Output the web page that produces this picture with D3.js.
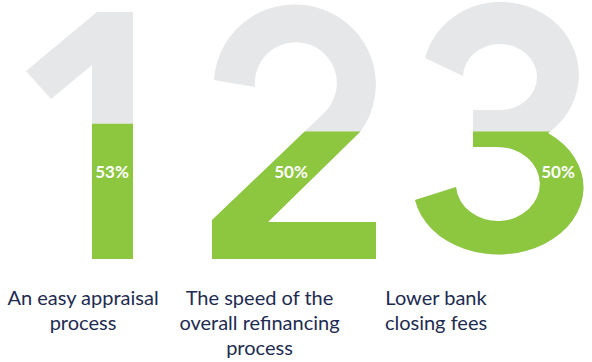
<!DOCTYPE html>
<html>
<head>
<meta charset="utf-8">
<script src="https://cdn.jsdelivr.net/npm/d3@7"></script>
<style>
  body { margin: 0; background: #fff; }
  svg { display: block; }
</style>
</head>
<body>
<div id="chart-area"></div>
<script>
// data
var ranks = ["1", "2", "3"];
var shares = [53, 50, 50];
var shareLabels = ["53%", "50%", "50%"];
var reasons = [
  ["An easy appraisal", "process"],
  ["The speed of the", "overall refinancing", "process"],
  ["Lower bank", "closing fees"]
];

var width = 592, height = 362;
var gray = "#e6e7e8", green = "#8dc63f", navy = "#1d2b52";

// fill level scale, shared by the three digits
var yScale = d3.scaleLinear()
  .domain([0, 100])
  .range([259, 4]);

// label positions
var xLabel = d3.scalePoint()
  .domain(ranks)
  .range([83, 436]);

// centre of the percent text in each digit
var xShare = d3.scaleOrdinal()
  .domain(ranks)
  .range([112, 291, 558]);

// digit outlines (glyph shapes)
var glyphs = {
  "1": "M97,12 L133,12 L133,259 L92,259 L92,65 L51,99 L26,71 Z",
  "2": "M214,80 A81,80 0 1 1 360,132 L268,222 L376,222 L376,259 L212,259 L212,220 L324,113 A41,41 0 1 0 255,87 Z",
  "3": "M425,58 A78,73 0 1 1 548,133 A85,67 0 1 1 415,200 L456,187 A42,37 0 1 0 498,147 " +
       "L473,147 L473,110 L500,110 A37,33 0 1 0 463,76 Z"
};

var svg = d3.select("#chart-area")
  .append("svg")
  .attr("width", width)
  .attr("height", height);

var defs = svg.append("defs");

var data = ranks.map(function(r, i) {
  return { rank: r, share: shares[i], label: shareLabels[i], reason: reasons[i] };
});

// clip rects for the green part
defs.selectAll("clipPath")
  .data(data)
  .enter()
  .append("clipPath")
  .attr("id", function(d) { return "fill-" + d.rank; })
  .append("rect")
  .attr("x", 0)
  .attr("width", width)
  .attr("y", function(d) { return yScale(d.share); })
  .attr("height", function(d) { return yScale(0) - yScale(d.share) + 2; });

var digits = svg.selectAll("g.digit")
  .data(data)
  .enter()
  .append("g")
  .attr("class", "digit");

digits.append("path")
  .attr("d", function(d) { return glyphs[d.rank]; })
  .attr("fill", gray);

digits.append("path")
  .attr("d", function(d) { return glyphs[d.rank]; })
  .attr("fill", green)
  .attr("clip-path", function(d) { return "url(#fill-" + d.rank + ")"; });

digits.append("text")
  .attr("x", function(d) { return xShare(d.rank); })
  .attr("y", 178)
  .attr("text-anchor", "middle")
  .attr("font-family", "Lato, 'Open Sans', sans-serif")
  .attr("font-weight", 700)
  .attr("font-size", "17px")
  .attr("fill", "#fff")
  .text(function(d) { return d.label; });

// captions under the digits
var captions = svg.selectAll("text.caption")
  .data(data)
  .enter()
  .append("text")
  .attr("class", "caption")
  .attr("x", function(d) { return xLabel(d.rank); })
  .attr("y", 305)
  .attr("text-anchor", "middle")
  .attr("font-family", "Lato, 'Open Sans', sans-serif")
  .attr("font-size", "20px")
  .attr("fill", navy);

captions.selectAll("tspan")
  .data(function(d) { return d.reason; })
  .enter()
  .append("tspan")
  .attr("x", function() { return d3.select(this.parentNode).attr("x"); })
  .attr("dy", function(d, i) { return i === 0 ? 0 : 25; })
  .text(function(d) { return d; });
</script>
</body>
</html>
